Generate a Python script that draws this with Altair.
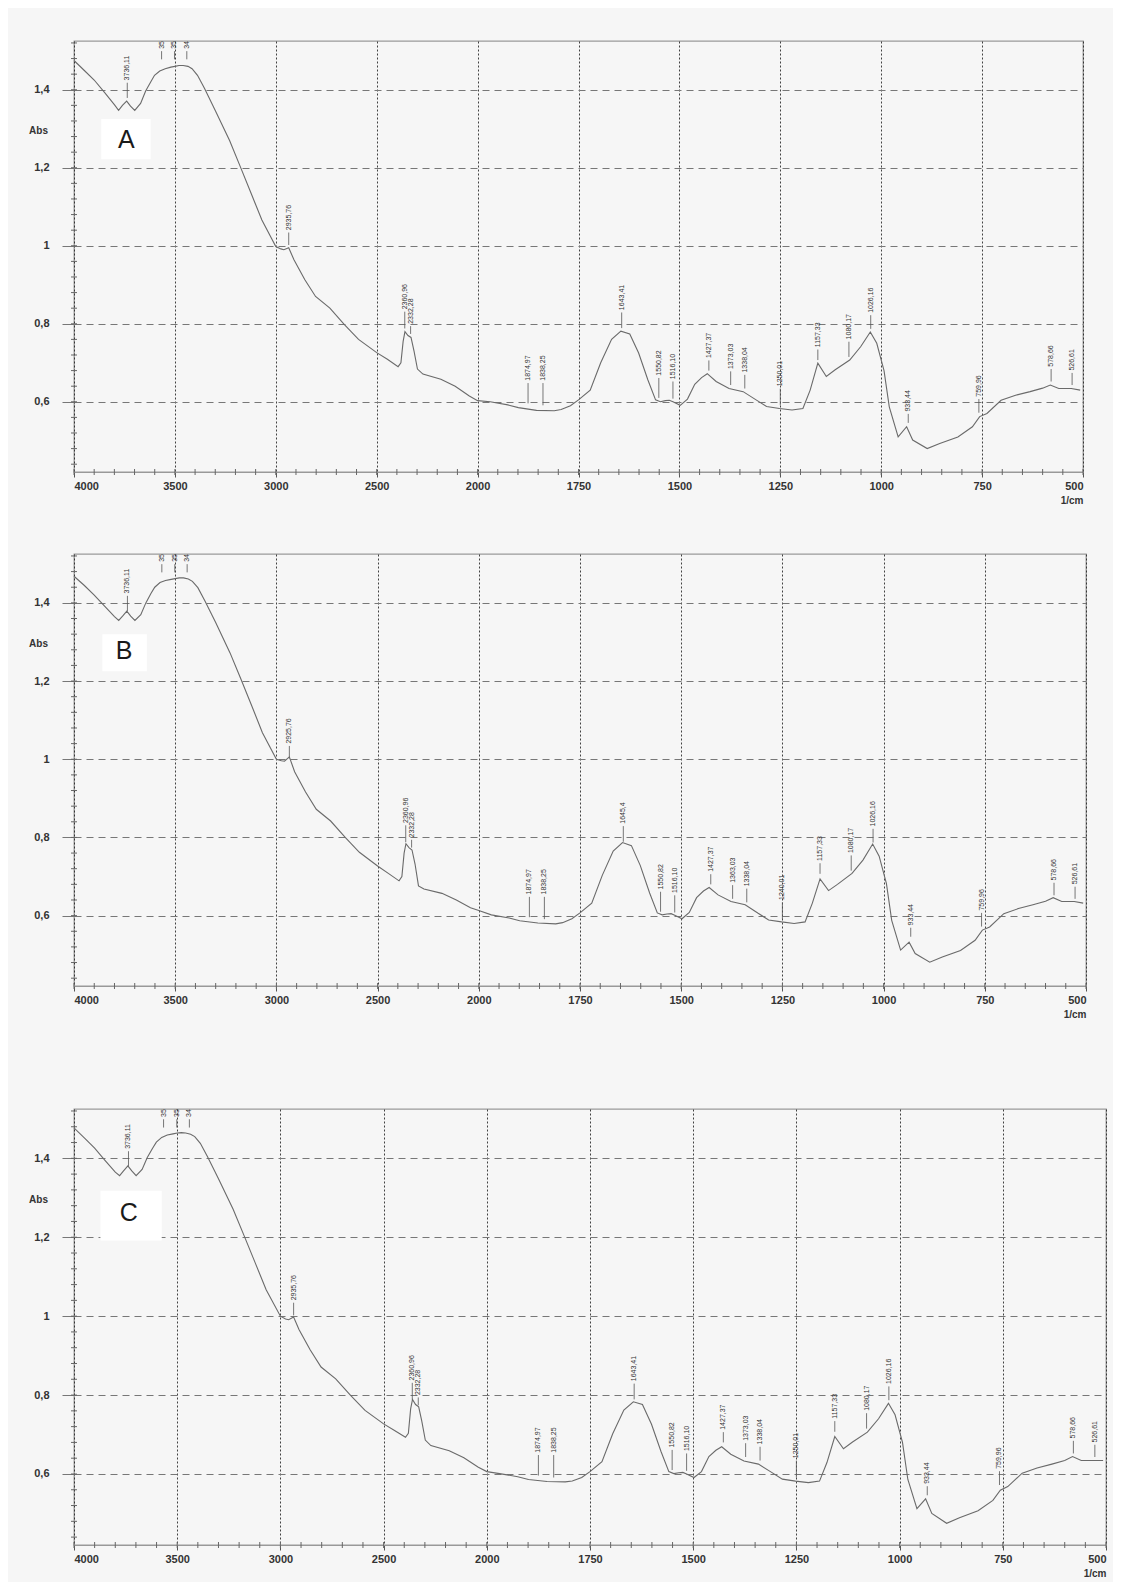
import altair as alt
import pandas as pd

# ---------------- data ----------------
wn = [4000, 3950, 3900, 3850, 3800, 3779, 3760, 3739, 3720, 3699, 3670, 3645, 3620, 3601,
      3575, 3548, 3520, 3500, 3480, 3459, 3435, 3415, 3388, 3353, 3300, 3229, 3176, 3122,
      3069, 3000, 2975, 2960, 2936, 2910, 2856, 2803, 2732, 2660, 2590, 2500, 2447, 2394,
      2380, 2369, 2360, 2345, 2330, 2315, 2298, 2271, 2182, 2111, 2041, 2000, 1969, 1925,
      1899, 1854, 1810, 1793, 1770, 1750, 1721, 1695, 1668, 1645, 1623, 1601, 1578, 1559,
      1547, 1535, 1525, 1516, 1498, 1480, 1462, 1445, 1431, 1409, 1377, 1342, 1310, 1284,
      1252, 1221, 1194, 1176, 1157, 1136, 1114, 1078, 1051, 1027, 1011, 993, 980, 958, 937,
      922, 886, 855, 810, 774, 756, 738, 703, 667, 631, 600, 581, 560, 529, 507]

abs_A = [1.475, 1.450, 1.425, 1.394, 1.362, 1.347, 1.360, 1.371, 1.358, 1.347, 1.365, 1.397, 1.420, 1.437,
         1.448, 1.454, 1.458, 1.460, 1.462, 1.462, 1.460, 1.454, 1.437, 1.403, 1.347, 1.270, 1.203, 1.134,
         1.066, 0.998, 0.992, 0.990, 0.995, 0.964, 0.913, 0.870, 0.840, 0.798, 0.760, 0.726, 0.709, 0.690,
         0.700, 0.755, 0.780, 0.770, 0.765, 0.730, 0.684, 0.671, 0.658, 0.640, 0.615, 0.603, 0.600, 0.592,
         0.585, 0.578, 0.577, 0.580, 0.590, 0.605, 0.630, 0.700, 0.760, 0.781, 0.774, 0.725, 0.656, 0.605,
         0.600, 0.603, 0.604, 0.600, 0.591, 0.607, 0.645, 0.662, 0.672, 0.652, 0.634, 0.626, 0.605, 0.588,
         0.583, 0.579, 0.583, 0.630, 0.699, 0.665, 0.682, 0.707, 0.741, 0.779, 0.750, 0.680, 0.587, 0.510, 0.536,
         0.502, 0.480, 0.493, 0.510, 0.536, 0.562, 0.570, 0.604, 0.617, 0.626, 0.635, 0.643, 0.634, 0.634, 0.630]

abs_B = [1.468, 1.445, 1.420, 1.392, 1.365, 1.355, 1.366, 1.379, 1.366, 1.355, 1.370, 1.400, 1.424, 1.440,
         1.452, 1.457, 1.460, 1.462, 1.464, 1.464, 1.461, 1.455, 1.439, 1.405, 1.350, 1.272, 1.206, 1.137,
         1.068, 1.000, 0.996, 0.995, 1.006, 0.968, 0.916, 0.872, 0.842, 0.800, 0.762, 0.727, 0.708, 0.689,
         0.700, 0.760, 0.784, 0.774, 0.768, 0.732, 0.676, 0.668, 0.657, 0.640, 0.620, 0.613, 0.602, 0.594,
         0.587, 0.581, 0.579, 0.582, 0.592, 0.607, 0.632, 0.703, 0.765, 0.787, 0.779, 0.728, 0.658, 0.607,
         0.602, 0.604, 0.605, 0.601, 0.592, 0.608, 0.646, 0.663, 0.672, 0.653, 0.636, 0.628, 0.606, 0.589,
         0.584, 0.580, 0.584, 0.632, 0.694, 0.664, 0.680, 0.708, 0.742, 0.783, 0.752, 0.682, 0.588, 0.512, 0.532,
         0.503, 0.481, 0.494, 0.511, 0.537, 0.563, 0.571, 0.605, 0.618, 0.628, 0.637, 0.646, 0.636, 0.636, 0.632]

abs_C = [1.477, 1.452, 1.426, 1.395, 1.365, 1.356, 1.368, 1.381, 1.368, 1.356, 1.372, 1.402, 1.425, 1.441,
         1.453, 1.459, 1.462, 1.464, 1.465, 1.464, 1.461, 1.455, 1.438, 1.404, 1.348, 1.271, 1.204, 1.135,
         1.067, 1.000, 0.993, 0.991, 0.998, 0.966, 0.915, 0.871, 0.841, 0.799, 0.761, 0.727, 0.710, 0.693,
         0.703, 0.765, 0.789, 0.776, 0.770, 0.734, 0.686, 0.672, 0.659, 0.641, 0.617, 0.606, 0.601, 0.593,
         0.586, 0.581, 0.580, 0.582, 0.591, 0.606, 0.631, 0.702, 0.762, 0.783, 0.776, 0.726, 0.657, 0.606,
         0.601, 0.603, 0.604, 0.600, 0.591, 0.606, 0.644, 0.660, 0.669, 0.650, 0.633, 0.625, 0.604, 0.587,
         0.582, 0.578, 0.582, 0.629, 0.695, 0.664, 0.681, 0.706, 0.740, 0.779, 0.750, 0.680, 0.586, 0.512, 0.537,
         0.500, 0.475, 0.489, 0.507, 0.533, 0.559, 0.568, 0.602, 0.615, 0.625, 0.634, 0.644, 0.634, 0.634, 0.634]

peak_wn = [3736, 3566, 3502, 3441, 2936, 2361, 2332, 1875, 1838, 1643, 1551, 1516, 1427,
           1373, 1338, 1250, 1157, 1080, 1026, 933, 758, 579, 527]
peak_txt = ["3736,11", "3566,21", "3502,38", "3441,05", "2935,76", "2360,96", "2332,28",
            "1874,97", "1838,25", "1643,41", "1550,82", "1516,10", "1427,37", "1373,03",
            "1338,04", "1250,01", "1157,33", "1080,17", "1026,16", "933,44", "759,96",
            "578,66", "526,61"]
peak_txt_B = ["3736,11", "3566,21", "3502,38", "3441,05", "2925,76", "2360,96", "2332,28",
              "1874,97", "1838,25", "1645,4", "1550,82", "1516,10", "1427,37", "1363,03",
              "1338,04", "1240,01", "1157,33", "1080,17", "1026,16", "933,44", "759,96",
              "578,66", "526,61"]
# curve value under each label and value where each label text begins
peak_curve = [1.373, 1.472, 1.472, 1.472, 0.996, 0.782, 0.768, 0.590, 0.585, 0.783, 0.604,
              0.602, 0.674, 0.637, 0.628, 0.585, 0.701, 0.709, 0.781, 0.540, 0.566, 0.646, 0.637]
peak_label = [1.424, 1.505, 1.505, 1.505, 1.040, 0.837, 0.800, 0.654, 0.654, 0.835, 0.667,
              0.658, 0.712, 0.684, 0.675, 0.640, 0.740, 0.760, 0.828, 0.575, 0.613, 0.690, 0.680]

x_major = [4000, 3500, 3000, 2500, 2000, 1750, 1500, 1250, 1000, 750, 500]
y_major = [0.6, 0.8, 1.0, 1.2, 1.4]
x_minor = list(range(4000, 1999, -100)) + list(range(1950, 499, -50))
y_minor = [round(0.44 + 0.04 * i, 2) for i in range(28)]

letters = ["A", "B", "C"]
letter_wn = [3740, 3752, 3735]
letter_abs = [1.272, 1.277, 1.262]
box_x1 = [3865, 3860, 3872]
box_x2 = [3620, 3640, 3575]
box_y1 = [1.325, 1.320, 1.318]
box_y2 = [1.222, 1.225, 1.192]

FONT = "Liberation Sans"
Y_LO, Y_HI = 0.42, 1.525


def panel(i, absv, ptxt, W, H):
    xs = alt.Scale(domain=[4000, 2000, 500], range=[0, 0.4 * W, W], nice=False, zero=False)
    ys = alt.Scale(domain=[Y_LO, Y_HI], nice=False, zero=False)
    title_y = (Y_HI - 1.295) / (Y_HI - Y_LO) * H
    xaxis = alt.Axis(values=x_major, format="d", grid=True, gridDash=[2, 2], gridColor="#222",
                     gridOpacity=0.85, domainColor="#999", tickColor="#555", tickSize=5,
                     labelFont=FONT, labelFontSize=11, labelFontWeight="bold", labelColor="#333",
                     labelPadding=3, title="1/cm", titleFont=FONT, titleFontSize=10,
                     titleFontWeight="bold", titleColor="#333", titleX=W, titleY=28,
                     titleAlign="right", titleBaseline="middle")
    yaxis = alt.Axis(values=y_major, grid=True, gridDash=[7, 5], gridColor="#777", domain=False,
                     tickColor="#777", tickSize=12, labelPadding=13,
                     labelExpr="datum.value == 1 ? '1' : replace(format(datum.value, '.1f'), '.', ',')",
                     labelFont=FONT, labelFontSize=11, labelFontWeight="bold", labelColor="#333",
                     title="Abs", titleAngle=0, titleX=-36, titleY=title_y, titleAlign="center",
                     titleBaseline="middle", titleFont=FONT, titleFontSize=10,
                     titleFontWeight="bold", titleColor="#333")

    spec = pd.DataFrame({"wn": wn, "abs": absv})
    base = alt.Chart(spec)
    line = base.mark_line(color="#6a6a6a", strokeWidth=1.1).encode(
        x=alt.X("wn:Q", scale=xs, axis=xaxis),
        y=alt.Y("abs:Q", scale=ys, axis=yaxis),
        order=alt.Order("wn:Q", sort="descending"),
    )

    pk = pd.DataFrame({"wn": peak_wn, "txt": ptxt, "yc": peak_curve, "yl": peak_label})
    pkc = alt.Chart(pk).transform_calculate(
        y1="datum.yc + 0.006", y2="datum.yl - 0.006", yt="datum.yl"
    )
    plines = pkc.mark_rule(color="#555", strokeWidth=0.8, clip=True).encode(
        x=alt.X("wn:Q", scale=xs), y=alt.Y("y1:Q", scale=ys), y2="y2:Q")
    ptext = pkc.mark_text(angle=270, align="left", baseline="middle", fontSize=7,
                          font=FONT, color="#333", clip=True).encode(
        x=alt.X("wn:Q", scale=xs), y=alt.Y("yt:Q", scale=ys), text="txt:N")

    xm = alt.Chart(pd.DataFrame({"v": x_minor})).mark_rule(color="#666", strokeWidth=1).encode(
        x=alt.X("v:Q", scale=xs), y=alt.value(H - 3), y2=alt.value(H + 3))
    ym = alt.Chart(pd.DataFrame({"v": y_minor})).mark_rule(color="#666", strokeWidth=1).encode(
        y=alt.Y("v:Q", scale=ys), x=alt.value(-3), x2=alt.value(3))

    lab = pd.DataFrame({"t": [letters[i]], "x": [letter_wn[i]], "y": [letter_abs[i]],
                        "bx1": [box_x1[i]], "bx2": [box_x2[i]],
                        "by1": [box_y1[i]], "by2": [box_y2[i]]})
    box = alt.Chart(lab).mark_rect(color="white").encode(
        x=alt.X("bx1:Q", scale=xs), x2="bx2:Q", y=alt.Y("by1:Q", scale=ys), y2="by2:Q")
    letter = alt.Chart(lab).mark_text(fontSize=25, font=FONT, color="#1a1a1a",
                                      baseline="middle", align="center").encode(
        x=alt.X("x:Q", scale=xs), y=alt.Y("y:Q", scale=ys), text="t:N")

    return alt.layer(box, letter, xm, ym, plines, ptext, line).properties(width=W, height=H)


pA = panel(0, abs_A, peak_txt, 1009, 431)
pB = panel(1, abs_B, peak_txt_B, 1012, 432)
pC = panel(2, abs_C, peak_txt, 1032, 436)

chart = alt.vconcat(alt.vconcat(pA, pB, spacing=47), pC, spacing=88).properties(
    background="#f6f6f6",
    padding={"left": 19, "top": 32, "right": 5, "bottom": 5},
).configure_view(stroke="#9a9a9a", strokeWidth=1.3)

chart.save("out.html", embed_options={"renderer": "svg", "actions": False})
